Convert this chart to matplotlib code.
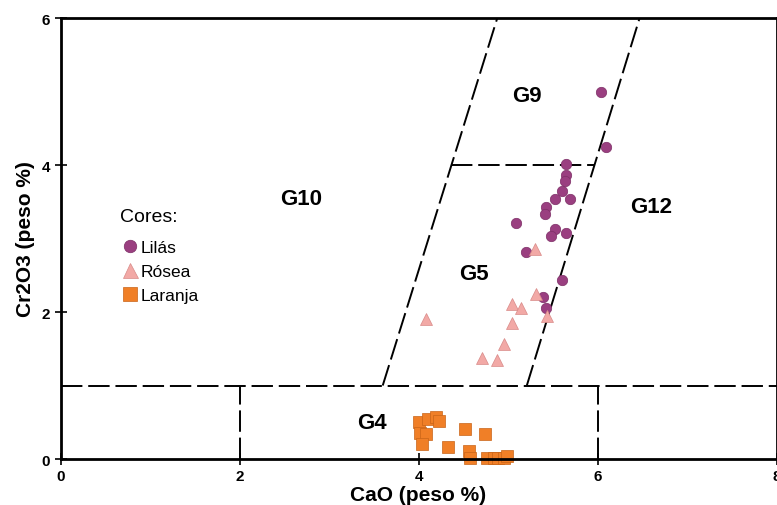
import matplotlib.pyplot as plt

# Lilás (purple circles)
lil_x = [6.04, 6.10, 5.65, 5.65, 5.64, 5.60, 5.52, 5.69, 5.42, 5.41, 5.09, 5.52, 5.48, 5.65, 5.20, 5.60, 5.39, 5.42]
lil_y = [4.99, 4.25, 4.01, 3.87, 3.78, 3.64, 3.54, 3.54, 3.43, 3.34, 3.21, 3.13, 3.04, 3.07, 2.82, 2.43, 2.20, 2.06]

# Rósea (pink triangles)
ros_x = [5.30, 5.31, 5.04, 5.15, 4.08, 5.04, 5.43, 4.96, 4.71, 4.88]
ros_y = [2.86, 2.25, 2.11, 2.06, 1.91, 1.85, 1.94, 1.56, 1.38, 1.35]

# Laranja (orange squares)
lar_x = [4.00, 4.11, 4.20, 4.23, 4.02, 4.08, 4.04, 4.52, 4.74, 4.33, 4.56, 4.58, 4.76, 4.84, 4.89, 4.95, 4.99]
lar_y = [0.50, 0.54, 0.57, 0.52, 0.36, 0.34, 0.20, 0.41, 0.34, 0.17, 0.11, 0.02, 0.01, 0.01, 0.02, 0.02, 0.04]

# field boundaries
left_line_x = [3.60, 4.88]
right_line_x = [5.21, 6.47]
line_y = [1, 6]

fields = ['G9', 'G10', 'G12', 'G5', 'G4']
field_x = [5.21, 2.69, 6.60, 4.62, 3.48]
field_y = [4.94, 3.54, 3.43, 2.52, 0.49]

plt.rcParams['font.family'] = ['Liberation Sans', 'DejaVu Sans']

fig = plt.figure(figsize=(7.77, 5.06), dpi=100)
ax = fig.add_axes([0.0779, 0.0909, 0.9215, 0.8715])

dash = dict(color='black', lw=1.4, dashes=(11, 3))
ax.plot([0, 8], [1, 1], **dash)
ax.plot([2, 2], [0, 1], **dash)
ax.plot([6, 6], [0, 1], **dash)
ax.plot(left_line_x, line_y, **dash)
ax.plot(right_line_x, line_y, **dash)
# G9 / G5 divider at y=4
xl = left_line_x[0] + (4 - 1) * (left_line_x[1] - left_line_x[0]) / 5
xr = right_line_x[0] + (4 - 1) * (right_line_x[1] - right_line_x[0]) / 5
ax.plot([xl, xr], [4, 4], **dash)

ax.plot(lil_x, lil_y, 'o', color='#9a3f80', mec='#7d2f66', mew=0.5, ms=7.5, label='Lilás', clip_on=False)
ax.plot(ros_x, ros_y, '^', color='#f2a9a6', mec='#d88a88', mew=0.5, ms=9, label='Rósea', clip_on=False)
ax.plot(lar_x, lar_y, 's', color='#f07f27', mec='#c86418', mew=0.5, ms=8, label='Laranja', clip_on=False)

for name, fx, fy in zip(fields, field_x, field_y):
    ax.text(fx, fy, name, fontsize=16, fontweight='bold', ha='center', va='center')

ax.text(0.083, 0.551, 'Cores:', fontsize=14, transform=ax.transAxes, ha='left', va='center')
ax.legend(loc='upper left', bbox_to_anchor=(0.073, 0.516), frameon=False,
          fontsize=12.5, markerscale=1.2,
          handletextpad=0.1, handlelength=1.0, labelspacing=0.5, borderpad=0)

ax.set_xlim(0, 8)
ax.set_ylim(0, 6)
ax.set_xticks([0, 2, 4, 6, 8])
ax.set_yticks([0, 2, 4, 6])
ax.tick_params(direction='inout', length=8, width=1.2, labelsize=11)
for lab in ax.get_xticklabels() + ax.get_yticklabels():
    lab.set_fontweight('bold')
for s in ax.spines.values():
    s.set_linewidth(2)
ax.set_xlabel('CaO (peso %)', fontsize=15, fontweight='bold', labelpad=1)
ax.set_ylabel('Cr2O3 (peso %)', fontsize=15, fontweight='bold', labelpad=5)

fig.savefig('out.png', dpi=100)
